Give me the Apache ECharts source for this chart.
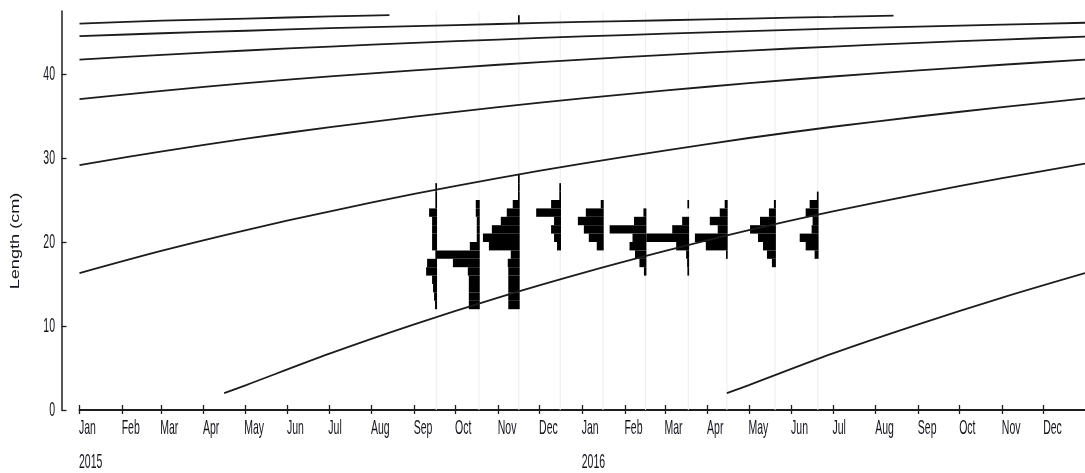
<!DOCTYPE html>
<html>
<head>
<meta charset="utf-8">
<script src="https://cdn.jsdelivr.net/npm/echarts@6/dist/echarts.min.js"></script>
<style>
html,body{margin:0;padding:0;background:#fff;}
#chart{width:1085px;height:473px;}
</style>
</head>
<body>
<div id="chart"></div>
<script>
// ---------- DATA ----------
const monthNames = ['Jan','Feb','Mar','Apr','May','Jun','Jul','Aug','Sep','Oct','Nov','Dec'];
const monthTicks = ['2015-01-01','2015-02-01','2015-03-01','2015-04-01','2015-05-01','2015-06-01',
  '2015-07-01','2015-08-01','2015-09-01','2015-10-01','2015-11-01','2015-12-01',
  '2016-01-01','2016-02-01','2016-03-01','2016-04-01','2016-05-01','2016-06-01',
  '2016-07-01','2016-08-01','2016-09-01','2016-10-01','2016-11-01','2016-12-01'];
const yearTicks = ['2015-01-01','2016-01-01'];
const yTicks = [0, 10, 20, 30, 40];
const yTitle = 'Length (cm)';

// sample dates (length-frequency samples)
const sampleDates = ['2015-09-17','2015-10-18','2015-11-16','2015-12-16','2016-01-16',
  '2016-02-16','2016-03-18','2016-04-15','2016-05-20','2016-06-20'];
// lower bounds of 1-cm length classes
const lengthBins = [12,13,14,15,16,17,18,19,20,21,22,23,24,25,26,27];
// relative frequencies per sample (one value per length class)
const freqSep = [2,3,4,5,11,10,0.5,5,5,5,5,8,1.5,1,1,0];
const freqOct = [11,11,11,11,12,27,43.5,10,3,3,3,4,4,0,0,0];
const freqNov = [11.5,11.5,11.5,11.5,11.5,12,9,31,37,28,19,13,7,1,1,1];
const freqDec = [0,0,0,0,0,0,0,4,7,10,7,25,10,1,1,0];
const freqJan = [0,0,0,0,0,0,0,7,15,20,26,18,3,0,0,0];
const freqFeb = [0,0,0,0,2.5,7,11.5,17,14,37,12.5,3,0,0,0,0];
const freqMar = [0,0,0,0,1,2,3,13,43,17,7,0,1.5,0,0,0];
const freqApr = [0,0,0,0,0,0,1,22,33,10,18,8,3,0,0,0];
const freqMay = [0,0,0,0,0,4,9,13,18,26,16,7,2,0,0,0];
const freqJun = [0,0,0,0,0,0,4,13,19,7,6,13,9,1.5,0,0];
const sampleFreqs = [freqSep,freqOct,freqNov,freqDec,freqJan,freqFeb,freqMar,freqApr,freqMay,freqJun];
// isolated large fish
const extraDates = ['2015-11-16'];
const extraBins = [46];
const extraFreqs = [1.5];

// growth curves (cohorts), [date, length cm]
const cohort1 = [['2015-01-01',46.0],['2015-03-02',46.35],['2015-05-02',46.6],['2015-07-02',46.85],['2015-08-14',47.0]];
const cohort2 = [['2015-01-01',44.5],['2015-03-02',44.85],['2015-05-02',45.15],['2015-07-02',45.45],['2015-09-01',45.7],['2015-11-01',45.95],
  ['2016-01-01',46.2],['2016-03-02',46.4],['2016-05-01',46.6],['2016-07-01',46.8],['2016-08-14',46.95]];
const cohort3 = [['2015-01-01',41.72],['2015-03-02',42.28],['2015-05-02',42.8],['2015-07-02',43.27],['2015-09-01',43.7],['2015-11-01',44.1],
  ['2016-01-01',44.47],['2016-03-02',44.8],['2016-05-01',45.11],['2016-07-01',45.39],['2016-09-01',45.65],['2016-11-01',45.88],['2016-12-31',46.1]];
const cohort4 = [['2015-01-01',37.0],['2015-03-02',38.0],['2015-05-02',38.91],['2015-07-02',39.71],['2015-09-01',40.43],['2015-11-01',41.1],
  ['2016-01-01',41.72],['2016-03-02',42.28],['2016-05-01',42.79],['2016-07-01',43.27],['2016-09-01',43.7],['2016-11-01',44.1],['2016-12-31',44.46]];
const cohort5 = [['2015-01-01',29.15],['2015-03-02',30.8],['2015-05-02',32.3],['2015-07-02',33.68],['2015-09-01',34.92],['2015-11-01',36.06],
  ['2016-01-01',37.1],['2016-03-02',38.04],['2016-05-01',38.91],['2016-07-01',39.7],['2016-09-01',40.43],['2016-11-01',41.1],['2016-12-31',41.71]];
const cohort6 = [['2015-01-01',16.3],['2015-03-02',18.97],['2015-05-02',21.42],['2015-07-02',23.66],['2015-09-01',25.72],['2015-11-01',27.6],
  ['2016-01-01',29.34],['2016-03-02',30.92],['2016-05-01',32.38],['2016-07-01',33.72],['2016-09-01',34.94],['2016-11-01',36.06],['2016-12-31',37.1]];
const cohort7 = [['2015-04-16',2.0],['2015-05-02',2.97],['2015-07-02',6.74],['2015-09-01',10.2],['2015-11-01',13.38],
  ['2016-01-01',16.29],['2016-03-02',18.96],['2016-05-01',21.41],['2016-07-01',23.65],['2016-09-01',25.71],['2016-11-01',27.6],['2016-12-31',29.33]];
const cohort8 = [['2016-04-15',2.0],['2016-05-01',2.97],['2016-07-01',6.74],['2016-09-01',10.2],['2016-11-01',13.38],['2016-12-31',16.29]];
const cohorts = [cohort1,cohort2,cohort3,cohort4,cohort5,cohort6,cohort7,cohort8];

// ---------- BUILD ----------
const ts = s => { const p = s.split('-').map(Number); return Date.UTC(p[0], p[1]-1, p[2]); };
const DAY = 86400000;
const histScale = DAY / 1.3867;   // time span per frequency unit
const xMin = ts('2015-01-01'), xMax = ts('2016-12-31');
const yMax = 47.5;
const FONT = "'Liberation Sans',Arial,sans-serif";
const TXT = '#14141c';
const STRETCH = 2.0;     // text in the reference is vertically stretched

const barData = [];
sampleDates.forEach((d, i) => {
  sampleFreqs[i].forEach((f, j) => { if (f > 0) barData.push([ts(d), lengthBins[j], f]); });
});
extraDates.forEach((d, i) => barData.push([ts(d), extraBins[i], extraFreqs[i]]));

const series = [];
series.push({
  type: 'custom', name: 'samples', silent: true, z: 1,
  data: sampleDates.map(d => [ts(d), 0]),
  encode: {x: 0, y: 1},
  renderItem: (params, api) => {
    const t = api.value(0);
    const a = api.coord([t, yMax]), b = api.coord([t, 0]);
    return {type: 'line', shape: {x1: a[0], y1: a[1], x2: b[0], y2: b[1]},
      style: {stroke: '#ececec', lineWidth: 1}};
  }
});
series.push({
  type: 'custom', name: 'lfq', silent: true, z: 2,
  data: barData,
  encode: {x: 0, y: 1},
  renderItem: (params, api) => {
    const t = api.value(0), lo = api.value(1), f = api.value(2);
    const pL = api.coord([t - f * histScale, lo + 1]);
    const pR = api.coord([t, lo]);
    const w = Math.max(1.7, pR[0] - pL[0]);
    return {type: 'rect', shape: {x: pR[0] - w + 0.8, y: pL[1], width: w, height: pR[1] - pL[1]},
      style: {fill: '#000'}};
  }
});
cohorts.forEach(c => {
  series.push({
    type: 'line', silent: true, z: 3, showSymbol: false, symbol: 'none', smooth: 0.3,
    data: c.map(p => [ts(p[0]), p[1]]),
    lineStyle: {color: '#1c1c1c', width: 1.8}
  });
});

const monthVals = monthTicks.map(ts);
const chart = echarts.init(document.getElementById('chart'), null, {renderer: 'canvas'});
chart.setOption({
  animation: false,
  backgroundColor: '#fff',
  grid: {left: 79.5, right: -6, top: 11, bottom: 63, containLabel: false},
  xAxis: [{
    type: 'value', min: xMin, max: xMax,
    axisLine: {show: true, lineStyle: {color: '#1e1e1e', width: 2}},
    axisTick: {show: true, inside: true, length: 5, customValues: monthVals, lineStyle: {color: '#1e1e1e', width: 1.3}},
    splitLine: {show: false},
    axisLabel: {show: false}
  }, {
    type: 'value', min: xMin, max: xMax, position: 'bottom',
    axisLine: {show: false},
    axisTick: {show: true, inside: false, length: 4, customValues: monthVals, lineStyle: {color: '#1e1e1e', width: 1.3}},
    axisLabel: {show: false}, splitLine: {show: false}
  }],
  yAxis: {
    type: 'value', min: 0, max: yMax, offset: 18,
    axisLine: {show: true, lineStyle: {color: '#1e1e1e', width: 1.5}},
    axisTick: {show: true, inside: true, length: 5, customValues: yTicks, lineStyle: {color: '#1e1e1e', width: 1.3}},
    axisLabel: {show: false},
    splitLine: {show: false}
  },
  series: series
});

// text labels placed through the axes' own scales, stretched vertically like the reference
const gfx = [];
const txt = (x, y, s, align, size, opts) => Object.assign({
  type: 'text', x: x, y: y, scaleY: STRETCH, originX: 0, originY: 0, silent: true, z: 10,
  style: {text: s, font: size + 'px ' + FONT, fill: TXT, align: align, verticalAlign: 'middle'}
}, opts || {});
monthTicks.forEach(d => {
  const px = chart.convertToPixel({xAxisIndex: 0}, ts(d));
  gfx.push(txt(px - 0.5, 428, monthNames[new Date(ts(d)).getUTCMonth()], 'left', 10.5));
});
yearTicks.forEach(d => {
  const px = chart.convertToPixel({xAxisIndex: 0}, ts(d));
  gfx.push(txt(px - 0.5, 462, String(new Date(ts(d)).getUTCFullYear()), 'left', 10.5));
});
yTicks.forEach(v => {
  const py = chart.convertToPixel({yAxisIndex: 0}, v);
  gfx.push(txt(55, py, String(v), 'right', 10.5));
});
gfx.push({
  type: 'text', x: 16, y: 241, rotation: Math.PI / 2, scaleX: 1.45, originX: 0, originY: 0, silent: true, z: 10,
  style: {text: yTitle, font: '12.5px ' + FONT, fill: TXT, align: 'center', verticalAlign: 'middle'}
});
chart.setOption({graphic: gfx});
</script>
</body>
</html>
